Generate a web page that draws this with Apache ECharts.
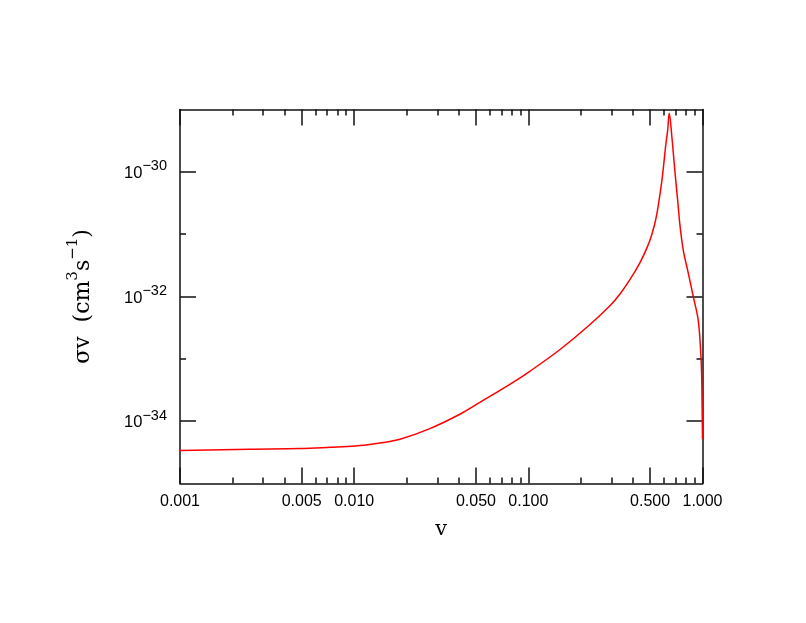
<!DOCTYPE html>
<html><head><meta charset="utf-8">
<script src="https://cdn.jsdelivr.net/npm/echarts@6/dist/echarts.min.js"></script>
<style>html,body{margin:0;padding:0;background:#fff}#c{width:806px;height:623px}</style>
</head><body><div id="c"></div>
<script>
// velocity v
const vValues = [0.001, 0.00252, 0.00488, 0.00726, 0.0101, 0.01406, 0.01832, 0.0272, 0.0404, 0.0527,
  0.0783, 0.102, 0.152, 0.226, 0.294, 0.336, 0.383, 0.437, 0.4796, 0.5123,
  0.544, 0.582, 0.600, 0.617, 0.631, 0.644, 0.6673, 0.6852, 0.7036, 0.7224,
  0.7419, 0.7748, 0.828, 0.885, 0.944, 0.975, 0.988, 0.996, 1.0];
// sigma v (cm^3 s^-1)
const sigmaV = [3.39e-35, 3.55e-35, 3.63e-35, 3.80e-35, 3.98e-35, 4.47e-35, 5.13e-35, 7.59e-35, 1.29e-34, 2.00e-34,
  3.89e-34, 6.31e-34, 1.41e-33, 3.55e-33, 7.08e-33, 1.10e-32, 1.86e-32, 3.47e-32, 6.03e-32, 1.00e-31,
  1.95e-31, 6.61e-31, 1.38e-30, 2.88e-30, 4.68e-30, 8.71e-30, 3.59e-30, 1.55e-30, 6.84e-31, 3.16e-31,
  1.41e-31, 5.62e-32, 2.40e-32, 1.00e-32, 4.27e-33, 1.41e-33, 6.03e-34, 1.38e-34, 5.13e-35];

const xMajorTicks = [0.001, 0.005, 0.01, 0.05, 0.1, 0.5, 1];
const xMinorTicks = [0.002, 0.003, 0.004, 0.006, 0.007, 0.008, 0.009,
  0.02, 0.03, 0.04, 0.06, 0.07, 0.08, 0.09, 0.2, 0.3, 0.4, 0.6, 0.7, 0.8, 0.9];
const xTickLabels = [0.001, 0.005, 0.01, 0.05, 0.1, 0.5, 1];
const yMajorTicks = [1e-34, 1e-32, 1e-30];
const yMinorTicks = [1e-33, 1e-31];
const yTickLabels = [1e-34, 1e-32, 1e-30];

// the y log axis works in units of 1e-35 cm^3 s^-1 (avoids float rounding of tiny extents)
const Y_UNIT = 1e-35;
const Y_UNIT_EXP = -35;
const toY = v => v / Y_UNIT;

const X_MIN = 0.001, X_MAX = 1, Y_MIN = toY(1e-35), Y_MAX = toY(1e-29);
const axisColor = '#111';
const lineW = 1.5;
const numFont = 'Liberation Sans';
const nameFont = 'DejaVu Serif';

function mkX(pos, ticks, len, withLabels, showLine) {
  const ax = {
    type: 'log', logBase: 10, position: pos, min: X_MIN, max: X_MAX,
    axisLine: { show: showLine, lineStyle: { color: axisColor, width: lineW } },
    axisTick: { show: true, inside: true, length: len, customValues: ticks, lineStyle: { color: axisColor, width: lineW } },
    axisLabel: { show: false },
    splitLine: { show: false }, minorTick: { show: false }, minorSplitLine: { show: false }
  };
  if (withLabels) {
    ax.axisLabel = {
      show: true, customValues: xTickLabels, margin: 10,
      formatter: v => Number(v).toFixed(3),
      fontFamily: numFont, fontSize: 16, color: '#000'
    };
    ax.name = 'v';
    ax.nameLocation = 'middle';
    ax.nameGap = 36;
    ax.nameTextStyle = { fontFamily: nameFont, fontSize: 21, color: '#000' };
  }
  return ax;
}
function mkY(pos, ticks, len, withLabels, showLine) {
  const ax = {
    type: 'log', logBase: 10, position: pos, min: Y_MIN, max: Y_MAX,
    axisLine: { show: showLine, lineStyle: { color: axisColor, width: lineW } },
    axisTick: { show: true, inside: true, length: len, customValues: ticks.map(toY), lineStyle: { color: axisColor, width: lineW } },
    axisLabel: { show: false },
    splitLine: { show: false }, minorTick: { show: false }, minorSplitLine: { show: false }
  };
  if (withLabels) {
    ax.axisLabel = {
      show: true, customValues: yTickLabels.map(toY), margin: 13,
      formatter: v => {
        const e = Math.round(Math.log10(v)) + Y_UNIT_EXP;
        return '{b|10}{s|\u2212' + Math.abs(e) + '}';
      },
      rich: {
        b: { fontFamily: numFont, fontSize: 16.5, color: '#000', lineHeight: 26, verticalAlign: 'middle', padding: [3, 0, 0, 0] },
        s: { fontFamily: numFont, fontSize: 14.5, color: '#000', lineHeight: 15, verticalAlign: 'top' }
      }
    };
    ax.name = '\u03c3v  (cm{s|3}s{s|\u22121})';
    ax.nameLocation = 'middle';
    ax.nameGap = 80;
    ax.nameTextStyle = {
      fontFamily: nameFont, fontSize: 22, color: '#000', lineHeight: 34,
      rich: { s: { fontFamily: nameFont, fontSize: 15, color: '#000', lineHeight: 15, verticalAlign: 'top' } }
    };
  }
  return ax;
}

const chart = echarts.init(document.getElementById('c'), null, { renderer: 'canvas' });
chart.setOption({
  animation: false,
  backgroundColor: '#fff',
  grid: { left: 180, right: 103.5, top: 109.5, bottom: 139.5, containLabel: false, outerBoundsMode: 'none' },
  xAxis: [
    mkX('bottom', xMajorTicks, 16, true, true),
    mkX('bottom', xMinorTicks, 6, false, false),
    mkX('top', xMajorTicks, 16, false, true),
    mkX('top', xMinorTicks, 6, false, false)
  ],
  yAxis: [
    mkY('left', yMajorTicks, 16, true, true),
    mkY('left', yMinorTicks, 6, false, false),
    mkY('right', yMajorTicks, 16, false, true),
    mkY('right', yMinorTicks, 6, false, false)
  ],
  series: [{
    type: 'line', xAxisIndex: 0, yAxisIndex: 0,
    data: vValues.map((v, i) => [v, toY(sigmaV[i])]),
    showSymbol: false, smooth: 0.35,
    lineStyle: { color: '#ff0000', width: 1.5 },
    itemStyle: { color: '#ff0000' }
  }]
});
</script></body></html>
